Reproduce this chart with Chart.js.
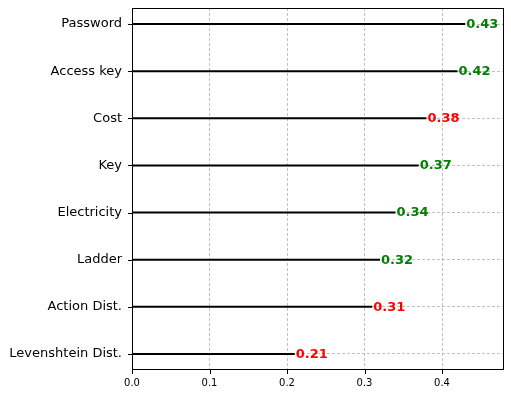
<!DOCTYPE html>
<html>
<head>
<meta charset="utf-8">
<script src="https://cdn.jsdelivr.net/npm/chart.js@4/dist/chart.umd.min.js"></script>
<style>
html,body{margin:0;padding:0;background:#fff;}
#wrap{width:511px;height:396px;}
</style>
</head>
<body>
<div id="wrap"><canvas id="c" width="511" height="396"></canvas></div>
<script>
// Data (top to bottom as displayed)
const categories = ["Password", "Access key", "Cost", "Key", "Electricity", "Ladder", "Action Dist.", "Levenshtein Dist."];
const values = [0.43, 0.42, 0.38, 0.37, 0.34, 0.32, 0.31, 0.21];
const labelColors = ["green", "green", "red", "green", "green", "green", "red", "red"];
const xTicks = [0.0, 0.1, 0.2, 0.3, 0.4];

const n = categories.length;
const yPos = i => n - 1 - i;

const datasets = categories.map((c, i) => ({
  label: c,
  data: [{x: 0, y: yPos(i)}, {x: values[i], y: yPos(i)}],
  borderColor: "#000",
  borderWidth: 2,
  pointRadius: 0,
  fill: false
}));

const FONT = "DejaVu Sans";

const framePlugin = {
  id: "frame",
  afterDatasetsDraw(chart) {
    const ctx = chart.ctx;
    const a = chart.chartArea;
    const xs = chart.scales.x, ys = chart.scales.y;
    ctx.save();
    // value labels
    ctx.font = "bold 13px '" + FONT + "'";
    ctx.textBaseline = "middle";
    ctx.textAlign = "left";
    values.forEach((v, i) => {
      ctx.fillStyle = labelColors[i];
      ctx.fillText(v.toFixed(2), xs.getPixelForValue(v) + 1, ys.getPixelForValue(yPos(i)) + 0.5);
    });
    // frame
    ctx.strokeStyle = "#000";
    ctx.lineWidth = 1;
    ctx.setLineDash([]);
    ctx.strokeRect(Math.round(a.left) + 0.5, Math.round(a.top) + 0.5, Math.round(a.right - a.left) - 1, Math.round(a.bottom - a.top) - 1);
    // tick marks
    ctx.beginPath();
    xTicks.forEach(t => {
      const px = Math.round(xs.getPixelForValue(t)) + 0.5;
      ctx.moveTo(px, a.bottom);
      ctx.lineTo(px, a.bottom + 4);
    });
    categories.forEach((c, i) => {
      const py = Math.round(ys.getPixelForValue(yPos(i))) + 0.5;
      ctx.moveTo(a.left, py);
      ctx.lineTo(a.left - 4, py);
    });
    ctx.stroke();
    ctx.restore();
  }
};

new Chart(document.getElementById("c"), {
  type: "line",
  data: {datasets},
  options: {
    responsive: false,
    animation: false,
    devicePixelRatio: 1,
    layout: {padding: {left: 0, right: 7, top: 8, bottom: 0}},
    plugins: {legend: {display: false}, tooltip: {enabled: false}},
    scales: {
      x: {
        type: "linear",
        min: 0,
        max: 0.48,
        afterBuildTicks: s => { s.ticks = xTicks.map(v => ({value: v})); },
        afterFit: s => { s.height = 26; s.paddingLeft = 0; s.paddingRight = 0; },
        ticks: {
          color: "#000",
          font: {family: FONT, size: 10},
          padding: 7,
          maxRotation: 0,
          callback: v => Number(v).toFixed(1)
        },
        grid: {color: "#b0b0b0", lineWidth: 0.8, drawTicks: false},
        border: {display: false, dash: [3, 2]}
      },
      y: {
        type: "linear",
        min: -0.34,
        max: n - 1 + 0.34,
        afterBuildTicks: s => { s.ticks = categories.map((c, i) => ({value: yPos(i)})); },
        afterFit: s => { s.width = 132; s.paddingTop = 0; s.paddingBottom = 0; },
        ticks: {
          color: "#000",
          font: {family: FONT, size: 13},
          padding: 10,
          callback: v => categories[n - 1 - Math.round(v)]
        },
        grid: {color: "#b0b0b0", lineWidth: 0.8, drawTicks: false},
        border: {display: false, dash: [3, 2]}
      }
    }
  },
  plugins: [framePlugin]
});
</script>
</body>
</html>
